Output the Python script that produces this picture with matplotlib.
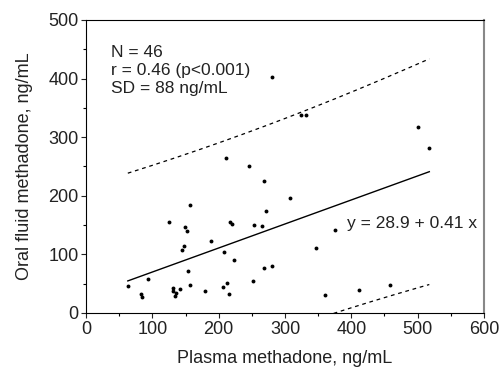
import numpy as np
import matplotlib
matplotlib.use("Agg")
import matplotlib.pyplot as plt
from matplotlib.ticker import MultipleLocator

# plasma (x) and oral fluid (y) methadone, ng/mL
plasma = [63, 83, 85, 93.5, 125, 131.6, 131, 136, 133.7, 141, 149.8, 152.8, 147, 144,
          156.8, 153.8, 156.8, 179, 188, 210.6, 217, 220, 208, 223, 207, 212, 215.6,
          245, 269, 307, 272, 253.8, 266, 375, 347, 269, 280, 251.8, 360, 411, 458,
          500, 517.6, 281, 323.6, 332]
oral = [46, 32, 27, 58.6, 155, 43, 37, 33.6, 29.6, 41, 147, 140.5, 114, 108,
        185, 71.7, 47.8, 38, 123, 265, 155.8, 152, 104, 90, 45, 52, 32,
        250, 225, 196, 173.5, 151, 149, 141.6, 111.5, 77, 79.7, 55, 31, 40, 48,
        318, 282, 402, 338, 338]

intercept, slope, sd, t_crit = 28.9, 0.41, 88.0, 2.015

x = np.array(plasma)
xbar = x.mean()
sxx = ((x - xbar) ** 2).sum()
xs = np.linspace(x.min(), x.max(), 200)
fit = intercept + slope * xs
half = t_crit * sd * np.sqrt(1 + 1 / len(x) + (xs - xbar) ** 2 / sxx)

plt.rcParams["font.family"] = ["Liberation Sans", "DejaVu Sans"]
fig = plt.figure(figsize=(5.01, 3.73), dpi=100)
ax = fig.add_axes([0.1717, 0.1609, 0.7943, 0.7855])

ax.plot(plasma, oral, "o", color="black", ms=2.8, mec="none")
ax.plot(xs, fit, color="black", lw=1.0)
ax.plot(xs, fit + half, color="black", lw=0.9, ls=(0, (3, 3)))
ax.plot(xs, fit - half, color="black", lw=0.9, ls=(0, (3, 3)))

ax.set_xlim(0, 600)
ax.set_ylim(0, 500)
ax.xaxis.set_major_locator(MultipleLocator(100))
ax.xaxis.set_minor_locator(MultipleLocator(50))
ax.yaxis.set_major_locator(MultipleLocator(100))
ax.yaxis.set_minor_locator(MultipleLocator(50))
ax.tick_params(which="major", direction="out", length=3.5, width=0.8, labelsize=13,
               colors="#222", pad=2)
ax.tick_params(which="minor", direction="out", length=2.2, width=0.8)
ax.spines["right"].set_color("#888")
ax.spines["right"].set_linewidth(1.5)

ax.text(37, 458, "N = 46\nr = 0.46 (p<0.001)\nSD = 88 ng/mL", fontsize=12.5,
        va="top", ha="left", linespacing=1.25, color="#222")
ax.text(393, 152, "y = 28.9 + 0.41 x", fontsize=12.5, va="center", ha="left", color="#222")

ax.set_xlabel("Plasma methadone, ng/mL", fontsize=13, color="#222", labelpad=9)
ax.set_ylabel("Oral fluid methadone, ng/mL", fontsize=13, color="#222", labelpad=11)

fig.savefig("out.png", dpi=100)
